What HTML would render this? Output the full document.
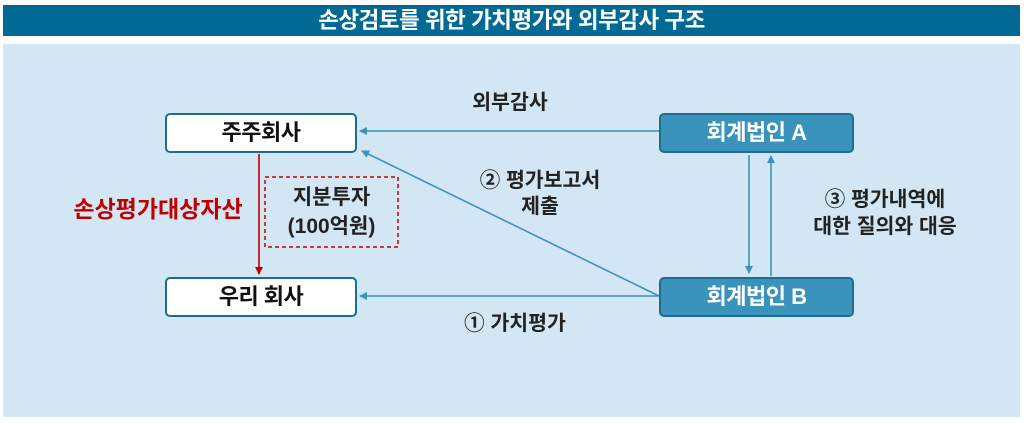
<!DOCTYPE html>
<html><head><meta charset="utf-8"><style>
body{margin:0;width:1024px;height:423px;background:#fff;position:relative;overflow:hidden;font-family:"Liberation Sans","Noto Sans CJK KR",sans-serif}
.t{position:absolute;left:3px;top:5px;width:1017px;height:31px;background:#006a94;color:#fff;font-size:22.5px;font-weight:bold;text-align:center;line-height:31px;letter-spacing:-0.5px}
.p{position:absolute;left:3px;top:44px;width:1017px;height:373px;background:#d2e6f4}
.b{position:absolute;box-sizing:border-box;border:2px solid #1c6d8f;border-radius:5px;text-align:center;font-size:22px;font-weight:bold;line-height:36px;letter-spacing:-0.5px}
.w{background:#fff;color:#111}
.d{background:#3a93bb;color:#fff}
.l{position:absolute;font-size:20.5px;font-weight:bold;color:#222;text-align:center;line-height:24px;white-space:nowrap}
</style></head><body>
<div class="t">손상검토를 위한 가치평가와 외부감사 구조</div>
<div class="p"></div>
<svg style="position:absolute;left:0;top:0" width="1024" height="423">
<defs>
<marker id="a" markerWidth="8" markerHeight="8" refX="7" refY="4" orient="auto" markerUnits="userSpaceOnUse"><path d="M0,0L8,4L0,8z" fill="#3a93bb"/></marker>
<marker id="r" markerWidth="8" markerHeight="8" refX="7" refY="4" orient="auto" markerUnits="userSpaceOnUse"><path d="M0,0L8,4L0,8z" fill="#c00000"/></marker>
</defs>
<g stroke="#3a93bb" stroke-width="1.6" fill="none">
<line x1="659" y1="131" x2="360" y2="131" marker-end="url(#a)"/>
<line x1="659" y1="296" x2="360" y2="296" marker-end="url(#a)"/>
<line x1="659" y1="296" x2="362" y2="151" marker-end="url(#a)"/>
<line x1="749" y1="155" x2="749" y2="273" marker-end="url(#a)"/>
<line x1="771" y1="276" x2="771" y2="156" marker-end="url(#a)"/>
</g>
<line x1="259" y1="154" x2="259" y2="274" stroke="#c00000" stroke-width="1.6" marker-end="url(#r)"/>
<rect x="265" y="177" width="133" height="70" fill="none" stroke="#c00000" stroke-width="1.5" stroke-dasharray="4,3"/>
</svg>
<div class="b w" style="left:165px;top:113px;width:192px;height:40px">주주회사</div>
<div class="b w" style="left:165px;top:277px;width:192px;height:40px">우리 회사</div>
<div class="b d" style="left:659px;top:113px;width:195px;height:40px">회계법인 A</div>
<div class="b d" style="left:659px;top:277px;width:195px;height:40px">회계법인 B</div>
<div class="l" style="left:450px;top:91px;width:120px">외부감사</div>
<div class="l" style="left:445px;top:168px;width:190px;line-height:26px">② 평가보고서<br>제출</div>
<div class="l" style="left:425px;top:312px;width:180px">① 가치평가</div>
<div class="l" style="left:790px;top:186px;width:190px;line-height:27px">③ 평가내역에<br>대한 질의와 대응</div>
<div class="l" style="left:58px;top:197px;width:200px;color:#c00000;font-size:23px">손상평가대상자산</div>
<div class="l" style="left:265px;top:183px;width:133px;font-size:21px;line-height:29px">지분투자<br>(100억원)</div>
</body></html>
